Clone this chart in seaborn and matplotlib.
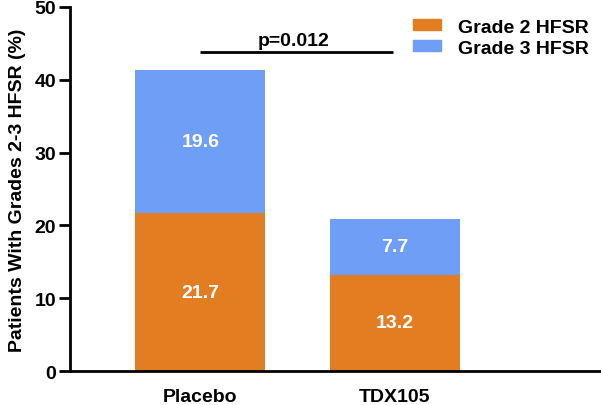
import numpy as np
import pandas as pd
import seaborn as sns
import matplotlib.pyplot as plt
from matplotlib.patches import Patch

groups = ["Placebo", "TDX105"]
grade2 = [21.7, 13.2]
grade3 = [19.6, 7.7]
p_text = "p=0.012"

orange = "#E27D22"
blue = "#6E9EF5"

sns.set_style("ticks")
plt.rcParams['font.family'] = ['Liberation Sans', 'DejaVu Sans']
plt.rcParams['font.weight'] = 'bold'
plt.rcParams.update({'text.color': 'black', 'axes.labelcolor': 'black',
                     'xtick.color': 'black', 'ytick.color': 'black',
                     'axes.edgecolor': 'black'})

df = pd.DataFrame({"group": groups, "g2": grade2, "g3": grade3})
df["total"] = df["g2"] + df["g3"]

fig = plt.figure(figsize=(6.01, 4.06), dpi=100)
ax = fig.add_axes([0.1165, 0.0837, 0.8835, 0.8966])

sns.barplot(data=df, x="group", y="total", color=blue, saturation=1, width=0.67,
            linewidth=0, ax=ax)
sns.barplot(data=df, x="group", y="g2", color=orange, saturation=1, width=0.67,
            linewidth=0, ax=ax)

# value labels inside segments
for i, row in df.iterrows():
    ax.text(i, row["g2"] / 2, f"{row['g2']:.1f}", ha="center", va="center",
            color="white", fontsize=14, fontweight="bold")
    ax.text(i, row["g2"] + row["g3"] / 2, f"{row['g3']:.1f}", ha="center", va="center",
            color="white", fontsize=14, fontweight="bold")

# significance bar
ax.plot([0, 0.99], [43.8, 43.8], color="black", lw=2, solid_capstyle="butt")
ax.text(0.48, 44.8, p_text, ha="center", va="baseline", fontsize=14, fontweight="bold")

ax.set_ylim(0, 50)
ax.set_xlim(-0.67, 2.06)
ax.set_yticks(np.arange(0, 51, 10))
ax.set_xlabel("")
ax.set_ylabel("Patients With Grades 2-3 HFSR (%)", fontsize=14, fontweight="bold", labelpad=6)
ax.tick_params(axis="y", length=8, width=2, labelsize=14, pad=2)
ax.tick_params(axis="x", length=0, labelsize=14, pad=12)
for s in ["left", "bottom"]:
    ax.spines[s].set_linewidth(2)
sns.despine(ax=ax)

handles = [Patch(color=orange), Patch(color=blue)]
ax.legend(handles, ["Grade 2 HFSR", "Grade 3 HFSR"], loc="upper right",
          bbox_to_anchor=(1.0, 1.0), frameon=False, fontsize=14,
          handlelength=1.45, handleheight=0.5, handletextpad=0.9,
          labelspacing=0.2, borderaxespad=0.2)

fig.savefig("out.png", dpi=100)
